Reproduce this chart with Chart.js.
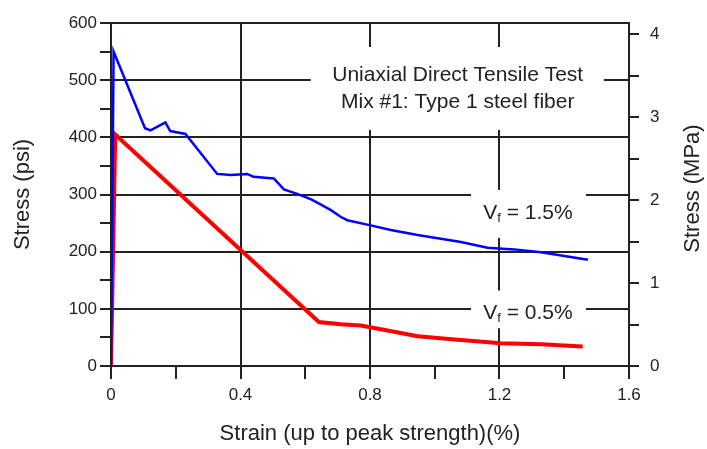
<!DOCTYPE html>
<html>
<head>
<meta charset="utf-8">
<script src="https://cdn.jsdelivr.net/npm/chart.js@4/dist/chart.umd.min.js"></script>
<style>
  body { margin: 0; background: #fff; }
  canvas { display: block; }
</style>
</head>
<body>
<canvas id="chart" width="707" height="449"></canvas>
<script>
// Vf = 1.5% curve
const strainHigh = [0, 0.008, 0.105, 0.122, 0.168, 0.183, 0.23, 0.328, 0.37, 0.421, 0.44, 0.503, 0.534, 0.575, 0.62, 0.65, 0.678, 0.709, 0.73, 0.802, 0.864, 0.947, 1.081, 1.163, 1.246, 1.328, 1.473]
const stressHigh = [0, 550, 416, 412, 426, 411, 406, 336, 334, 336, 331, 328, 309, 301, 291, 282, 273, 261, 255, 246, 238, 229, 217, 207, 204, 199, 186]

// Vf = 0.5% curve
const strainLow = [0, 0.013, 0.642, 0.709, 0.771, 0.854, 0.947, 1.071, 1.204, 1.328, 1.457]
const stressLow = [0, 405, 77, 73, 71, 62, 52, 46, 40, 38, 34]

const strainTicks = [0, 0.2, 0.4, 0.6, 0.8, 1.0, 1.2, 1.4, 1.6]
const mpaTicks = [0, 0.5, 1, 1.5, 2, 2.5, 3, 3.5, 4]
const PSI_TO_MPA = 0.00689476

const FONT = "'Liberation Sans', Arial, sans-serif"
const INK = '#222'

const toPoints = (xs, ys) => xs.map((v, i) => ({ x: v, y: ys[i] }))

// text blocks inside the plot, in data units
const notes = [
  { lines: ['Uniaxial Direct Tensile Test', 'Mix #1: Type 1 steel fiber'], x: 1.071, y: [509, 462], box: [0.617, 1.523, 558, 413] },
  { vf: '1.5%', x: 1.288, y: [267], box: [1.112, 1.467, 308, 224] },
  { vf: '0.5%', x: 1.288, y: [92], box: [1.112, 1.467, 132, 66] },
]

const notesPlugin = {
  id: 'notes',
  beforeDatasetsDraw(chart) {
    const { ctx, scales: { x, y } } = chart
    ctx.save()
    notes.forEach((n) => {
      const [x0, x1, y0, y1] = n.box
      ctx.fillStyle = '#fff'
      ctx.fillRect(x.getPixelForValue(x0), y.getPixelForValue(y0), x.getPixelForValue(x1) - x.getPixelForValue(x0), y.getPixelForValue(y1) - y.getPixelForValue(y0))
      ctx.fillStyle = INK
      ctx.textBaseline = 'middle'
      const cx = x.getPixelForValue(n.x)
      if (n.lines) {
        ctx.font = '21px ' + FONT
        ctx.textAlign = 'center'
        n.lines.forEach((t, i) => ctx.fillText(t, cx, y.getPixelForValue(n.y[i])))
      } else {
        const cy = y.getPixelForValue(n.y[0])
        const big = '21px ' + FONT
        const small = '13px ' + FONT
        const rest = ' = ' + n.vf
        ctx.font = big
        const wV = ctx.measureText('V').width
        const wR = ctx.measureText(rest).width
        ctx.font = small
        const wF = ctx.measureText('f').width
        let px = cx - (wV + wF + wR) / 2
        ctx.textAlign = 'left'
        ctx.font = big
        ctx.fillText('V', px, cy)
        px += wV
        ctx.font = small
        ctx.fillText('f', px, cy + 5)
        px += wF
        ctx.font = big
        ctx.fillText(rest, px, cy)
      }
    })
    ctx.restore()
  },
  afterDraw(chart) {
    // right axis title reads bottom to top
    const { ctx, chartArea } = chart
    ctx.save()
    ctx.translate(693, (chartArea.top + chartArea.bottom) / 2 - 6)
    ctx.rotate(-Math.PI / 2)
    ctx.font = '22px ' + FONT
    ctx.fillStyle = INK
    ctx.textAlign = 'center'
    ctx.textBaseline = 'middle'
    ctx.fillText('Stress (MPa)', 0, 0)
    ctx.restore()
  },
}

const config = {
  type: 'scatter',
  data: {
    datasets: [
      {
        label: 'Vf = 1.5%',
        data: toPoints(strainHigh, stressHigh),
        showLine: true,
        borderColor: '#0000ff',
        borderWidth: 2.5,
        pointRadius: 0,
        yAxisID: 'y',
      },
      {
        label: 'Vf = 0.5%',
        data: toPoints(strainLow, stressLow),
        showLine: true,
        borderColor: '#ff0000',
        borderWidth: 4,
        pointRadius: 0,
        yAxisID: 'y',
      },
    ],
  },
  options: {
    responsive: false,
    animation: false,
    layout: { padding: { top: 23, left: 0, right: 0, bottom: 0 } },
    plugins: { legend: { display: false }, tooltip: { enabled: false } },
    scales: {
      x: {
        type: 'linear',
        min: 0,
        max: 1.6,
        afterBuildTicks: (s) => { s.ticks = strainTicks.map((v) => ({ value: v })) },
        afterFit: (s) => { s.height = 83 },
        border: { display: true, color: INK, width: 2 },
        grid: {
          lineWidth: 2,
          color: (c) => (Math.round(c.tick.value * 10) % 4 === 0 ? INK : 'rgba(0,0,0,0)'),
          tickColor: INK,
          tickLength: 13,
        },
        ticks: {
          padding: 6,
          color: INK,
          font: { family: FONT, size: 17 },
          maxRotation: 0,
          autoSkip: false,
          callback: (v) => (Math.round(v * 10) % 4 === 0 ? (v === 0 ? '0' : v.toFixed(1)) : ''),
        },
        title: {
          display: true,
          text: 'Strain (up to peak strength)(%)',
          color: INK,
          font: { family: FONT, size: 22 },
          padding: { top: 0, bottom: 2 },
        },
      },
      y: {
        type: 'linear',
        position: 'left',
        min: 0,
        max: 600,
        afterFit: (s) => { s.width = 111 },
        border: { display: true, color: INK, width: 2 },
        grid: {
          lineWidth: 2,
          color: (c) => (c.tick.value % 100 === 0 ? INK : 'rgba(0,0,0,0)'),
          tickColor: INK,
          tickLength: 11,
        },
        ticks: {
          stepSize: 50,
          padding: 3,
          color: INK,
          font: { family: FONT, size: 17 },
          autoSkip: false,
          callback: (v) => (v % 100 === 0 ? v : ''),
        },
        title: {
          display: true,
          text: 'Stress (psi)',
          color: INK,
          font: { family: FONT, size: 22 },
          padding: { top: 10, bottom: 0 },
        },
      },
      y1: {
        type: 'linear',
        position: 'right',
        min: 0,
        max: 600 * PSI_TO_MPA,
        afterBuildTicks: (s) => { s.ticks = mpaTicks.map((v) => ({ value: v })) },
        afterFit: (s) => { s.width = 78 },
        border: { display: true, color: INK, width: 2 },
        grid: { drawOnChartArea: false, lineWidth: 2, color: INK, tickLength: 10 },
        ticks: {
          padding: 11,
          color: INK,
          font: { family: FONT, size: 17 },
          autoSkip: false,
          callback: (v) => (Number.isInteger(v) ? v : ''),
        },
      },
    },
  },
  plugins: [notesPlugin],
}

const myChart = new Chart(document.getElementById('chart'), config)
</script>
</body>
</html>
